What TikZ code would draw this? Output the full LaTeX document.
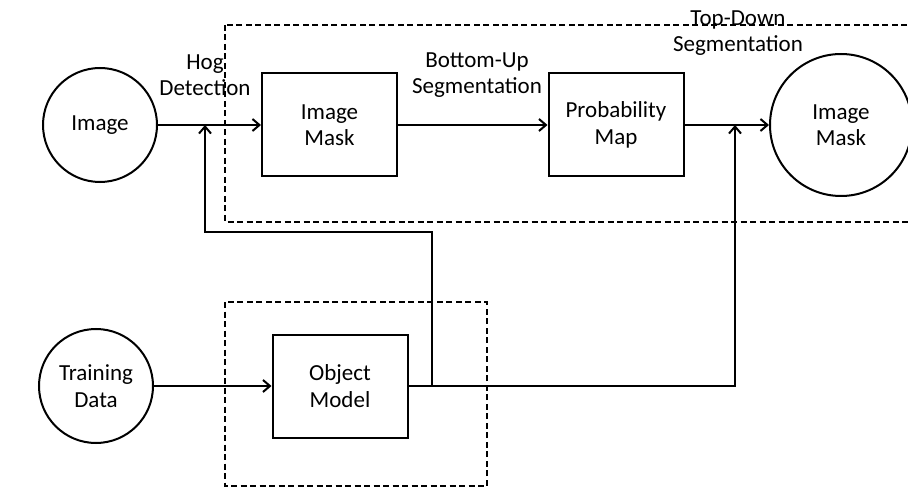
\documentclass[tikz,border=0pt]{standalone}
\usepackage{fontspec}
\setmainfont{Carlito}
\usepackage{tikz}
\usetikzlibrary{arrows.meta}

\begin{document}
\begin{tikzpicture}[
  x=1pt, y=-1pt,
  font=\fontsize{23}{26.5}\selectfont,
  stage/.style={draw, line width=2pt, minimum width=135pt, minimum height=103pt, align=center},
  data/.style={draw, circle, line width=2pt, align=center},
  group/.style={draw, line width=2pt, dash pattern=on 6pt off 3.5pt},
  arrow/.style={-{Straight Barb[length=7pt,width=12pt,line width=2pt]}, line width=2pt},
  tag/.style={align=center, inner sep=0pt}
]
\useasboundingbox (0,0) rectangle (908,489);

% dashed groups
\draw[group] (225,25) rectangle (920,222);
\draw[group] (225,302) rectangle (487,486);

% inputs and outputs
\node[data, minimum size=114pt] (img) at (100,125) {Image};
\node[data, minimum size=114pt] (train) at (96,386) {Training\\Data};
\node[data, minimum size=142pt] (out) at (841,125) {Image\\Mask};

% processing stages
\node[stage] (mask) at (329.5,125) {Image\\Mask};
\node[stage] (prob) at (616,125) {Probability\\Map};
\node[stage] (model) at (340,386) {Object\\Model};

% labels over the arrows
\node[tag] (hog) at (205,75) {Hog\\Detection};
\node[tag] (bu) at (477,75) {Bottom-Up\\Segmentation};
\node[tag] (td) at (738,33) {Top-Down\\Segmentation};

% junctions
\coordinate (hogjoin) at (205,125);
\coordinate (tdjoin) at (735,125);
\coordinate (fb) at (432,232);

\draw[arrow] (img) -- (mask);
\draw[arrow] (mask) -- (prob);
\draw[arrow] (prob) -- (out);
\draw[arrow] (train) -- (model);
\draw[arrow] (model.east) -| (fb) -| (hogjoin);
\draw[arrow] (model.east) -| (tdjoin);
\end{tikzpicture}
\end{document}
